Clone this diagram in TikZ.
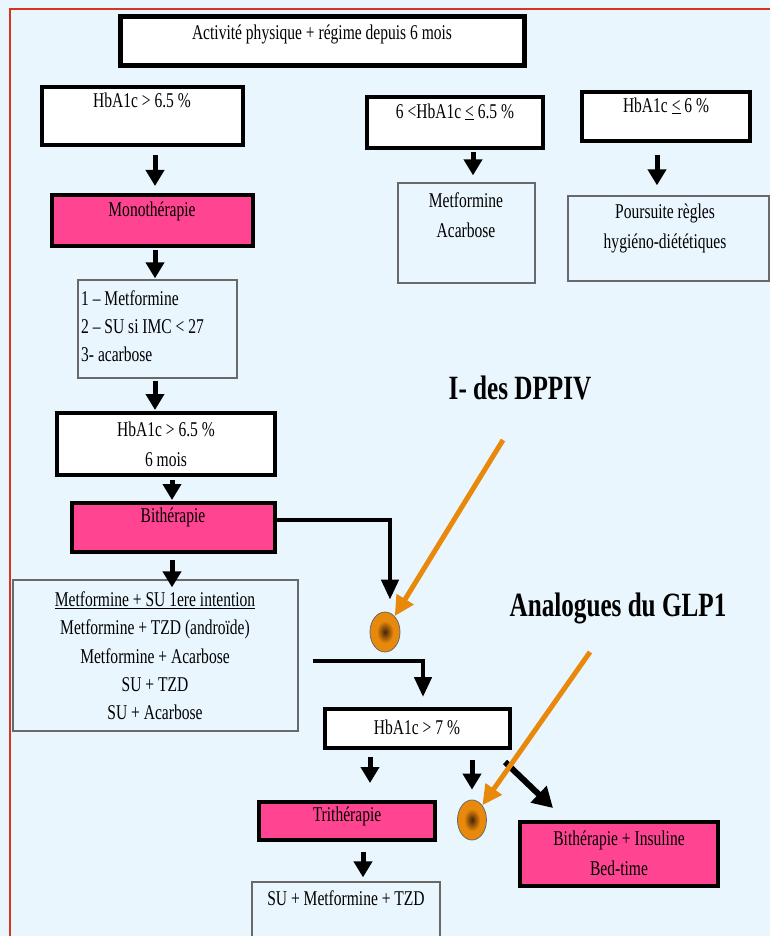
\documentclass[tikz,border=0pt]{standalone}
\usepackage{fontspec}
\setmainfont{Liberation Serif}[FakeStretch=0.74]
\usetikzlibrary{arrows.meta,calc,shapes.geometric}
\definecolor{bgblue}{RGB}{234,246,254}
\definecolor{pinkbox}{RGB}{255,68,145}
\definecolor{orangec}{RGB}{232,137,12}
\definecolor{darkorb}{RGB}{70,35,8}
\definecolor{redline}{RGB}{214,52,30}
\definecolor{grayline}{RGB}{105,105,105}
\pgfdeclareradialshading{orb}{\pgfpoint{0bp}{0bp}}{color(0bp)=(darkorb); color(14bp)=(orangec); color(25bp)=(orangec); color(50bp)=(orangec)}
\tikzset{
  thickbox/.style={draw=black, line width=4pt, fill=white, inner sep=0pt},
  pinkb/.style={draw=black, line width=4pt, fill=pinkbox, inner sep=0pt},
  thinbox/.style={draw=grayline, line width=1.3pt, fill=bgblue, inner sep=0pt},
  txt/.style={font=\fontsize{21}{28}\selectfont, inner sep=0pt, align=center},
  bigtxt/.style={font=\fontsize{34}{38}\selectfont\bfseries, inner sep=0pt},
  blk/.style={draw=black, line width=5pt, -{Triangle[length=16pt,width=18pt]}},
  blkelbow/.style={draw=black, line width=4.5pt, -{Triangle[length=20pt,width=17pt]}},
  blkdiag/.style={draw=black, line width=6pt, -{Triangle[length=20pt,width=22pt]}},
  oarr/.style={draw=orangec, line width=5pt, -{Triangle[length=20pt,width=19pt]}},
  orbnode/.style={ellipse, draw=grayline, line width=0.8pt, shading=orb, inner sep=0pt}
}
\begin{document}
\begin{tikzpicture}[x=1pt,y=-1pt]
\useasboundingbox (0,0) rectangle (770,936);
\clip (0,0) rectangle (770,936);
\fill[bgblue] (0,0) rectangle (770,936);
\draw[redline, line width=2pt] (9.5,940) -- (9.5,9.5) -- (772,9.5);

% boxes
\node[thickbox, line width=5pt, minimum width=404pt, minimum height=49pt] (top) at (322.5,41) {};
\node[thickbox, minimum width=201pt, minimum height=58pt] (hb1) at (142.5,116) {};
\node[thickbox, minimum width=176pt, minimum height=51pt] (hb2) at (455,122.5) {};
\node[thickbox, minimum width=168pt, minimum height=49pt] (hb3) at (666,116.5) {};
\node[pinkb, minimum width=201pt, minimum height=51pt] (mono) at (152.5,220.5) {};
\node[thinbox, minimum width=159pt, minimum height=98pt] (list1) at (157.5,329) {};
\node[thinbox, minimum width=137pt, minimum height=100pt] (metacar) at (466.5,233) {};
\node[thinbox, minimum width=201pt, minimum height=85pt] (pours) at (668.5,238.5) {};
\node[thickbox, minimum width=218pt, minimum height=62pt] (hb4) at (166,444) {};
\node[pinkb, minimum width=203pt, minimum height=49pt] (bith) at (173.5,527.5) {};
\node[thinbox, minimum width=285pt, minimum height=151pt] (list2) at (155.5,655.5) {};
\node[thickbox, minimum width=185pt, minimum height=39pt] (hb5) at (417.5,728.5) {};
\node[pinkb, minimum width=176pt, minimum height=38pt] (tri) at (347,821) {};
\node[thinbox, minimum width=188pt, minimum height=63pt] (sumet) at (346,913.5) {};
\node[pinkb, minimum width=198pt, minimum height=64pt] (bins) at (619,854) {};

% orbs
\node[orbnode, minimum width=30pt, minimum height=40pt] (ell1) at (385,632) {};
\node[orbnode, minimum width=29pt, minimum height=40pt] (ell2) at (472,820) {};

% texts
\node[txt] (topT) at (322,34) {Activité physique + régime depuis 6 mois};
\node[txt] (hb1T) at (142,100) {HbA1c > 6.5 \%};
\node[txt] (hb2T) at (455,112) {6 <HbA1c \underline{<} 6.5 \%};
\node[txt] (hb3T) at (666,106) {HbA1c \underline{<} 6 \%};
\node[txt] (monoT) at (152,211) {Monothérapie};
\node[txt, align=left, anchor=west] (list1T) at (81,326) {1 -- Metformine\\2 -- SU si IMC < 27\\3- acarbose};
\node[txt, font=\fontsize{21}{30}\selectfont] (metacarT) at (466,215) {Metformine\\Acarbose};
\node[txt, font=\fontsize{21}{30}\selectfont] (poursT) at (665,228) {Poursuite règles\\hygiéno-diététiques};
\node[txt, font=\fontsize{21}{30}\selectfont] (hb4T) at (166,444) {HbA1c > 6.5 \%\\6 mois};
\node[txt] (bithT) at (173,517) {Bithérapie};
\node[txt, font=\fontsize{21}{28.3}\selectfont] (list2T) at (155,656) {\underline{Metformine + SU 1ere intention}\\Metformine + TZD (androïde)\\Metformine + Acarbose\\SU + TZD\\SU + Acarbose};
\node[txt] (hb5T) at (417,727) {HbA1c > 7 \%};
\node[txt] (triT) at (347,816) {Trithérapie};
\node[txt] (sumetT) at (346,898) {SU + Metformine + TZD};
\node[txt, font=\fontsize{21}{30}\selectfont] (binsT) at (619,853) {Bithérapie + Insuline\\Bed-time};
\node[bigtxt] (dpp) at (520,388) {I- des DPPIV};
\node[bigtxt] (glp) at (618,608) {Analogues du GLP1};

% black arrows
\draw[blk] ([xshift=12.5pt,yshift=-8pt]hb1.south) -- ([xshift=2.5pt,yshift=7pt]mono.north);
\draw[blk] ([xshift=18pt,yshift=-2pt]hb2.south) -- ([xshift=6.5pt,yshift=7pt]metacar.north);
\draw[blk] ([xshift=-9pt,yshift=-12pt]hb3.south) -- ([xshift=-11.5pt,yshift=10pt]pours.north);
\draw[blk] ([xshift=2.5pt,yshift=-2pt]mono.south) -- ([xshift=-2.5pt,yshift=1pt]list1.north);
\draw[blk] ([xshift=-2.5pt,yshift=-2pt]list1.south) -- ([xshift=-11pt,yshift=1pt]hb4.north);
\draw[blk] ([xshift=6pt,yshift=-3pt]hb4.south) -- ([xshift=-1.5pt,yshift=1pt]bith.north);
\draw[blk] ([xshift=-1.5pt,yshift=-6pt]bith.south) -- ([xshift=16.5pt,yshift=-8pt]list2.north);
\draw[blkelbow] ([yshift=7.5pt]bith.east) -| ([xshift=5pt,yshift=12pt]ell1.north);
\draw[blkelbow] ([xshift=14pt,yshift=-5.5pt]list2.east) -| ([xshift=5.5pt,yshift=10pt]hb5.north);
\draw[blk] ([xshift=-47.5pt,yshift=-7pt]hb5.south) -- ([xshift=23pt,yshift=17pt]tri.north);
\draw[blk] ([xshift=54.5pt,yshift=-10pt]hb5.south) -- ([yshift=10pt]ell2.north);
\draw[blkdiag] ([xshift=-7pt,yshift=-12pt]hb5.south east) -- ([xshift=35pt,yshift=12pt]bins.north west);
\draw[blk] ([xshift=16pt,yshift=-10pt]tri.south) -- ([xshift=17pt,yshift=4pt]sumet.north);

% orange arrows
\coordinate (o1s) at (503,440);
\coordinate (o2s) at (590,652);
\draw[oarr] (o1s) -- (ell1);
\draw[oarr] (o2s) -- (ell2);
\end{tikzpicture}
\end{document}
